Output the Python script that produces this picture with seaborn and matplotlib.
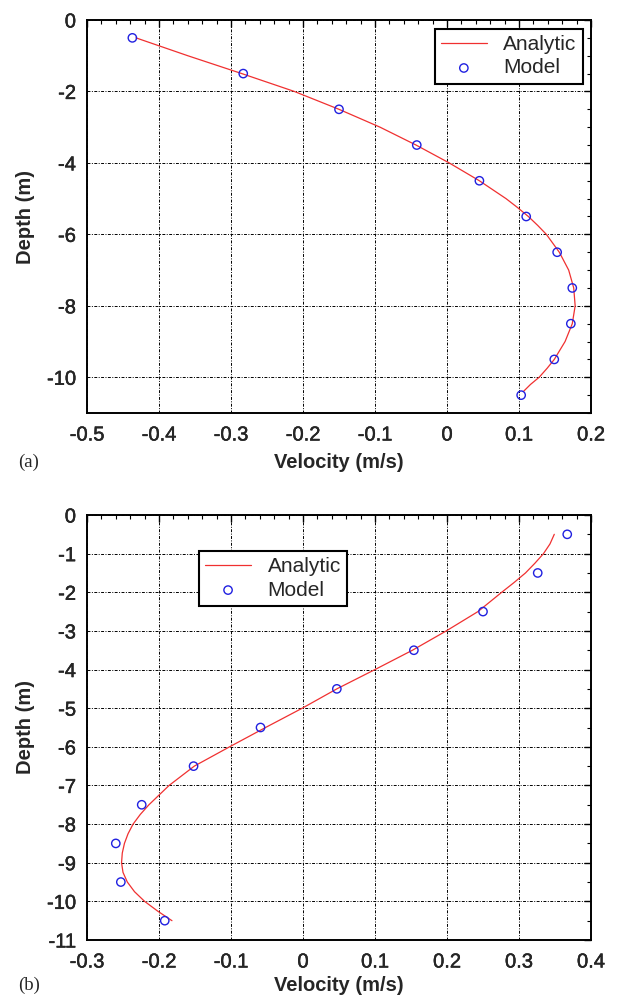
import matplotlib
matplotlib.use("Agg")
import matplotlib.pyplot as plt
import matplotlib.patheffects as pe
import seaborn as sns
import pandas as pd
import numpy as np
from matplotlib.ticker import MultipleLocator

sns.set_style("white")
plt.rcParams['font.family'] = ['Liberation Sans', 'DejaVu Sans']

# ---- Data (a) ----
a_line_depth = [-0.5, -1.0, -1.5, -2.0, -2.5, -3.0, -3.5, -4.0, -4.5, -5.0, -5.25, -5.5, -5.75,
                -6.0, -6.5, -7.0, -7.5, -8.0, -8.5, -9.0, -9.5, -9.75, -10.0, -10.2, -10.4]
a_line_vel = [-0.432, -0.360, -0.285, -0.212, -0.150, -0.093, -0.043, 0.003, 0.045, 0.082, 0.098, 0.113, 0.126,
              0.138, 0.156, 0.169, 0.176, 0.178, 0.174, 0.164, 0.149, 0.139, 0.128, 0.116, 0.106]
a_model_depth = [-0.5, -1.5, -2.5, -3.5, -4.5, -5.5, -6.5, -7.5, -8.5, -9.5, -10.5]
a_model_vel = [-0.437, -0.283, -0.150, -0.042, 0.045, 0.110, 0.153, 0.174, 0.172, 0.149, 0.103]
a_xticks = [-0.5, -0.4, -0.3, -0.2, -0.1, 0.0, 0.1, 0.2]
a_xlabels = ["-0.5", "-0.4", "-0.3", "-0.2", "-0.1", "0", "0.1", "0.2"]
a_yticks = [0, -2, -4, -6, -8, -10]

# ---- Data (b) ----
b_line_depth = [-0.5, -0.75, -1.0, -1.25, -1.5, -1.75, -2.0, -2.5, -3.0, -3.5, -4.0, -4.5, -5.0, -5.5,
                -6.0, -6.5, -7.0, -7.5, -7.75, -8.0, -8.25, -8.5, -8.75, -9.0, -9.25, -9.5, -9.75,
                -10.0, -10.25, -10.5]
b_line_vel = [0.349, 0.343, 0.334, 0.322, 0.309, 0.293, 0.276, 0.243, 0.199, 0.152, 0.100, 0.047, -0.001, -0.052,
              -0.102, -0.151, -0.186, -0.214, -0.226, -0.236, -0.243, -0.248, -0.251, -0.252, -0.250, -0.244, -0.234,
              -0.220, -0.202, -0.182]
b_model_depth = [-0.5, -1.5, -2.5, -3.5, -4.5, -5.5, -6.5, -7.5, -8.5, -9.5, -10.5]
b_model_vel = [0.367, 0.326, 0.250, 0.154, 0.047, -0.059, -0.152, -0.224, -0.260, -0.253, -0.192]
b_xticks = [-0.3, -0.2, -0.1, 0.0, 0.1, 0.2, 0.3, 0.4]
b_xlabels = ["-0.3", "-0.2", "-0.1", "0", "0.1", "0.2", "0.3", "0.4"]
b_yticks = list(range(0, -12, -1))

fig = plt.figure(figsize=(6.17, 9.96), dpi=100)
W, H = 617.0, 996.0

def make_ax(left, right, top, bottom):
    return fig.add_axes([left / W, 1 - bottom / H, (right - left) / W, (bottom - top) / H])

ax1 = make_ax(87, 591, 20, 413)
ax2 = make_ax(87, 591, 515, 940)

thick = [pe.withStroke(linewidth=0.3, foreground="black")]

def draw(ax, ld, lv, md, mv, xticks, xlabels, yticks, xlab_y):
    dl = pd.DataFrame({"Velocity": lv, "Depth": ld})
    dm = pd.DataFrame({"Velocity": mv, "Depth": md})
    sns.lineplot(data=dl, x="Velocity", y="Depth", sort=False, estimator=None,
                 color="#f03030", lw=0.9, ax=ax, label="Analytic")
    sns.scatterplot(data=dm, x="Velocity", y="Depth", ax=ax, marker="o", s=36,
                    facecolor="none", edgecolor="#2020e0", linewidth=1.0, label="Model", zorder=5)
    ax.set_xlim(xticks[0], xticks[-1])
    ax.set_ylim(-11, 0)
    ax.set_xticks(xticks, xlabels)
    ax.xaxis.set_minor_locator(MultipleLocator(0.02))
    ax.set_yticks(yticks, [str(v) for v in yticks])
    ax.yaxis.set_minor_locator(MultipleLocator(0.5))
    ax.grid(True, which="major", color="black", linestyle=(0, (3, 1.5, 1, 1.5)), linewidth=0.7)
    ax.tick_params(which="both", direction="in", top=True, right=True, labelsize=14.5,
                   color="black")
    ax.tick_params(axis="x", which="major", pad=9)
    ax.tick_params(axis="y", which="major", pad=8)
    ax.tick_params(which="major", length=5, width=1)
    ax.tick_params(which="minor", length=3, width=0.8)
    for t in ax.get_xticklabels() + ax.get_yticklabels():
        t.set_path_effects(thick)
    for s in ax.spines.values():
        s.set_visible(True)
        s.set_color("black")
        s.set_linewidth(1.4)
    ax.set_xlabel("Velocity (m/s)", fontsize=14.5, fontweight="bold", va="center")
    ax.set_ylabel("Depth (m)", fontsize=14.5, fontweight="bold", va="center")
    ax.xaxis.set_label_coords(0.5, xlab_y)
    ax.yaxis.set_label_coords(-0.123, 0.5)
    ax.set_axisbelow(True)

draw(ax1, a_line_depth, a_line_vel, a_model_depth, a_model_vel, a_xticks, a_xlabels, a_yticks,
     -(462 - 413) / 393)
draw(ax2, b_line_depth, b_line_vel, b_model_depth, b_model_vel, b_xticks, b_xlabels, b_yticks,
     -(985 - 940) / 425)

leg_kw = dict(fontsize=15, fancybox=False, edgecolor="black", framealpha=1,
              borderaxespad=0, handlelength=2.2, borderpad=0.3, labelspacing=0.2,
              handletextpad=0.8)
l1 = ax1.legend(loc="upper right", bbox_to_anchor=(0.984, 0.977), **leg_kw)
l2 = ax2.legend(loc="upper left", bbox_to_anchor=(0.222, 0.915), **leg_kw)
for l in (l1, l2):
    l.get_frame().set_linewidth(1.5)

fig.text(18 / W, 1 - 462 / H, "(a)", fontsize=13.5, family=["Liberation Serif", "DejaVu Serif"],
         va="center", ha="left")
fig.text(18 / W, 1 - 985 / H, "(b)", fontsize=13.5, family=["Liberation Serif", "DejaVu Serif"],
         va="center", ha="left")

fig.savefig("out.png", dpi=100, facecolor="white")
